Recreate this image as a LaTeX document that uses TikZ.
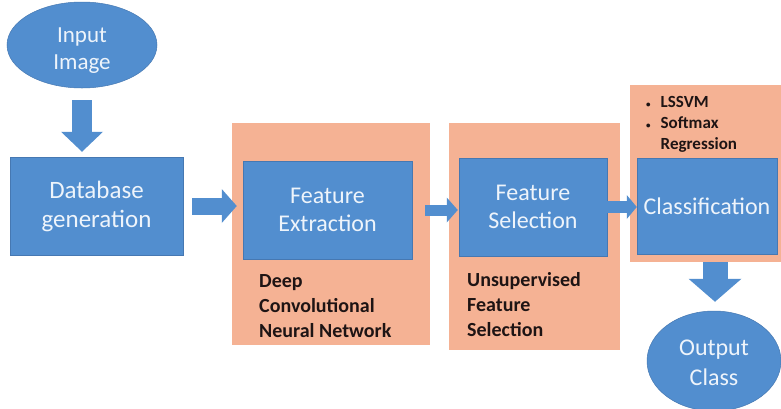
\documentclass[tikz,border=0pt]{standalone}
\usepackage{fontspec}
\setmainfont{Carlito}
\usetikzlibrary{arrows.meta,shapes.geometric}
\definecolor{bblue}{RGB}{82,142,207}
\definecolor{bedge}{RGB}{70,120,178}
\definecolor{borange}{RGB}{245,178,148}
\definecolor{btext}{RGB}{238,244,251}
\definecolor{ltext}{RGB}{30,20,20}
\begin{document}
\begin{tikzpicture}[x=1pt,y=-1pt,
  bbox/.style={rectangle, fill=bblue, draw=bedge, line width=0.5pt, text=btext,
    font=\fontsize{24}{28}\selectfont, align=center, inner sep=0pt},
  obox/.style={rectangle, fill=borange, inner sep=0pt},
  bell/.style={ellipse, fill=bblue, draw=bedge, line width=0.5pt, text=btext,
    font=\fontsize{23}{27}\selectfont, align=center, inner sep=0pt},
  lab/.style={font=\bfseries\fontsize{20}{25}\selectfont, text=ltext, align=left,
    anchor=north west, inner sep=0pt},
  barrow/.style n args={3}{draw=bblue, line width=#1,
    -{Triangle[width=#2,length=#3,line width=0pt]}}]
\useasboundingbox (0,0) rectangle (781,408);
\fill[white] (0,0) rectangle (781,408);
% orange panels
\node[obox, minimum width=198pt, minimum height=222pt] (o1) at (331,234) {};
\node[obox, minimum width=171pt, minimum height=227pt] (o2) at (534.5,236.5) {};
\node[obox, minimum width=151pt, minimum height=177pt] (o3) at (705.5,173.5) {};
% main nodes
\node[bell, minimum width=150pt, minimum height=86pt] (inp) at (82,45) {\rule{0pt}{25pt}Input\\Image};
\node[bbox, minimum width=173pt, minimum height=98pt, font=\fontsize{25}{29}\selectfont] (db) at (96.5,206) {Database\\generation};
\node[bbox, minimum width=169pt, minimum height=98pt] (fe) at (327.5,210) {Feature\\Extraction};
\node[bbox, minimum width=148pt, minimum height=98pt] (fs) at (533,207) {Feature\\Selection};
\node[bbox, minimum width=140pt, minimum height=96pt] (cl) at (707,206) {Classification};
\node[bell, minimum width=134pt, minimum height=100pt, font=\fontsize{24}{30}\selectfont] (out) at (714,361) {\rule{0pt}{20pt}Output\\Class};
% labels
\node[lab] (l1) at (259,274) {Deep\\Convolutional\\Neural Network};
\node[lab] (l2) at (467,272) {Unsupervised\\Feature\\Selection};
\node[anchor=north west, inner sep=0pt, text=ltext, font=\bfseries\fontsize{17}{21}\selectfont] (l3) at (646,93)
  {\begin{tabular}{@{}l@{\hspace{10pt}}l@{}}
   {\fontsize{9}{9}\selectfont\textbullet} & LSSVM\\
   {\fontsize{9}{9}\selectfont\textbullet} & Softmax\\
   & Regression
   \end{tabular}};
% arrows
\draw[barrow={20pt}{42pt}{20pt}, shorten <=12pt, shorten >=5pt] (inp.south) -- (inp.south |- db.north);
\draw[barrow={17pt}{34pt}{15pt}, shorten <=9pt, shorten >=6pt] (db.east) -- (db.east -| fe.west);
\draw[barrow={11pt}{25pt}{11pt}, shorten <=13pt, shorten >=1pt] (fe.east) -- (fe.east -| fs.west);
\draw[barrow={12pt}{24pt}{10pt}] (fs.east) -- (fs.east -| cl.west);
\coordinate (a5) at (715,262);
\draw[barrow={25pt}{53pt}{23pt}, shorten >=9pt] (a5) -- (a5 |- out.north);
\end{tikzpicture}
\end{document}
